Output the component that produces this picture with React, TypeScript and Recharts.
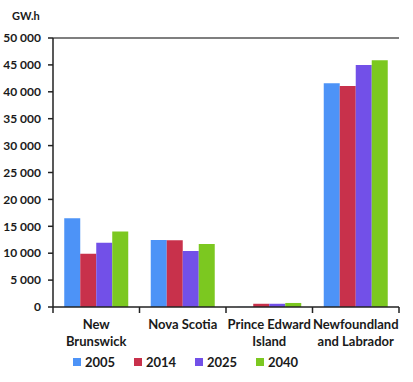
import { BarChart, Bar, XAxis, YAxis, ReferenceLine, Legend } from 'recharts';

const categories = ['New\nBrunswick', 'Nova Scotia', 'Prince Edward\nIsland', 'Newfoundland\nand Labrador'];
const years = ['2005', '2014', '2025', '2040'];
const v2005 = [16500, 12450, 30, 41600];
const v2014 = [9900, 12400, 600, 41100];
const v2025 = [11950, 10400, 600, 45000];
const v2040 = [14050, 11700, 750, 45850];
const yTicks = [0, 5000, 10000, 15000, 20000, 25000, 30000, 35000, 40000, 45000, 50000];

const COLORS = ['#4d93f7', '#c8314b', '#7250e8', '#7cc820'];
const FONT = 'Lato, "Open Sans", sans-serif';
const TEXT = '#1a1a1a';

const W = 413;
const H = 382;
const MARGIN = { top: 38, right: 14, left: 0, bottom: 0 };
const Y_W = 53;
const HALF_BAND = (W - MARGIN.right - Y_W) / categories.length / 2;

const data = categories.map((name, i) => ({
  name,
  '2005': v2005[i],
  '2014': v2014[i],
  '2025': v2025[i],
  '2040': v2040[i],
}));

const fmt = (v: number) => String(v).replace(/\B(?=(\d{3})+(?!\d))/g, ' ');

function CatTick(props: any) {
  const { x, y, payload } = props;
  const lines = String(payload.value).split('\n');
  return (
    <g>
      <line x1={x - HALF_BAND} x2={x - HALF_BAND} y1={y} y2={y + 6} stroke="#222" strokeWidth={1.5} />
      {payload.index === categories.length - 1 && (
        <line x1={x + HALF_BAND} x2={x + HALF_BAND} y1={y} y2={y + 6} stroke="#222" strokeWidth={1.5} />
      )}
      {lines.map((l, i) => (
        <text key={i} x={x} y={y + 22 + i * 17} textAnchor="middle" fontSize={13} fontWeight={700} fill={TEXT} fontFamily={FONT}>
          {l}
        </text>
      ))}
    </g>
  );
}

function LegendBox() {
  return (
    <div style={{ height: 30, display: 'flex', paddingLeft: 73, alignItems: 'flex-start' }}>
      {years.map((y, i) => (
        <div key={y} style={{ width: 61, display: 'flex', alignItems: 'center', fontFamily: FONT, fontWeight: 700, fontSize: 13, color: TEXT, lineHeight: '20px' }}>
          <span style={{ width: 8, height: 8, background: COLORS[i], marginRight: 4, display: 'inline-block' }} />
          {y}
        </div>
      ))}
    </div>
  );
}

export default function App() {
  return (
    <div style={{ position: 'relative', width: W, height: H, background: '#fff' }}>
      <style>{`body{margin:0}`}</style>
      <div style={{ position: 'absolute', left: 12, top: 9, fontFamily: FONT, fontWeight: 700, fontSize: 11, color: TEXT }}>GW.h</div>
      <BarChart width={W} height={H} data={data} margin={MARGIN} barCategoryGap="13%" barGap={0}>
        <XAxis
          dataKey="name"
          height={45}
          tick={<CatTick />}
          tickLine={false}
          tickSize={0}
          tickMargin={0}
          interval={0}
          axisLine={{ stroke: '#222', strokeWidth: 1.5 }}
        />
        <YAxis
          width={Y_W}
          domain={[0, 50000]}
          ticks={yTicks}
          interval={0}
          tickFormatter={fmt}
          tickSize={5}
          tickMargin={7}
          tickLine={{ stroke: '#222', strokeWidth: 1.5 }}
          axisLine={{ stroke: '#222', strokeWidth: 1.5 }}
          tick={{ fontSize: 12, fontWeight: 700, fill: TEXT, fontFamily: FONT }}
        />
        <YAxis yAxisId="r" orientation="right" width={0} tick={false} tickLine={false} axisLine={{ stroke: '#555', strokeWidth: 1.5 }} />
        <ReferenceLine y={50000} stroke="#555" strokeWidth={1.5} />
        {years.map((y, i) => (
          <Bar key={y} dataKey={y} fill={COLORS[i]} isAnimationActive={false} />
        ))}
        <Legend verticalAlign="bottom" height={30} content={<LegendBox />} />
      </BarChart>
    </div>
  );
}
